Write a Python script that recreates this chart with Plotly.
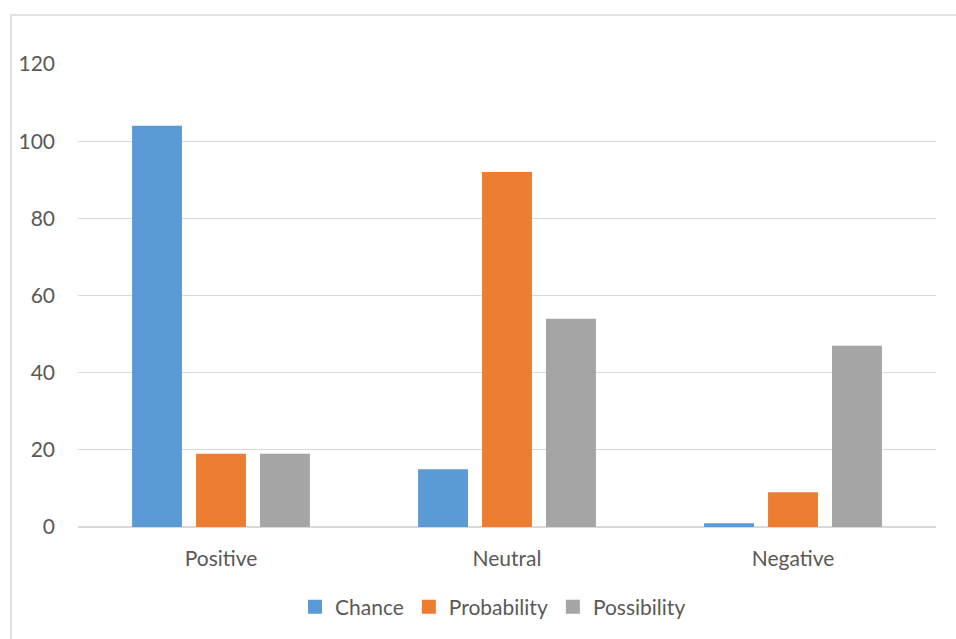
import plotly.graph_objects as go

categories = ["Positive", "Neutral", "Negative"]
chance = [104, 15, 1]
probability = [19, 92, 9]
possibility = [19, 54, 47]
y_ticks = [0, 20, 40, 60, 80, 100, 120]

W, H = 956, 639
ML, MR, MT, MB = 78, 20, 64, 112
plot_w = W - ML - MR
plot_h = H - MT - MB

font_family = "Lato, 'Open Sans', sans-serif"
text_color = "#595959"
grid_color = "#D9D9D9"

series = [
    ("Chance", chance, "#5B9BD5"),
    ("Probability", probability, "#ED7D31"),
    ("Possibility", possibility, "#A5A5A5"),
]

fig = go.Figure()
for name, vals, color in series:
    fig.add_trace(go.Bar(
        x=categories, y=vals, name=name, showlegend=False,
        marker=dict(color=color, line=dict(width=0)),
    ))
# legend entries with larger square swatches
for name, vals, color in series:
    fig.add_trace(go.Scatter(
        x=[None], y=[None], name=name, mode="markers",
        marker=dict(symbol="square", size=14, color=color),
    ))

# outer chart border (extends past the right and bottom edges)
fig.add_shape(
    type="rect", xref="paper", yref="paper",
    x0=(11 - ML) / plot_w, x1=(W + 20 - ML) / plot_w,
    y0=-(H + 20 - MT - plot_h) / plot_h, y1=(MT + plot_h - 15) / plot_h,
    line=dict(color=grid_color, width=1.5), fillcolor="rgba(0,0,0,0)",
    layer="below",
)

fig.update_layout(
    width=W, height=H,
    margin=dict(l=ML, r=MR, t=MT, b=MB, pad=0),
    paper_bgcolor="white", plot_bgcolor="white",
    barmode="group", bargap=0.329, bargroupgap=0.22,
    font=dict(family=font_family, size=21, color=text_color),
    showlegend=True,
    legend=dict(
        orientation="h", x=(493 - ML) / plot_w, xanchor="center",
        y=-(607 - (MT + plot_h)) / plot_h, yanchor="middle",
        font=dict(size=21, color=text_color),
        itemwidth=30, tracegroupgap=0,
        traceorder="normal",
    ),
    xaxis=dict(
        showgrid=False, showline=False, ticks="",
        ticklabelstandoff=17,
        tickfont=dict(size=21, color=text_color),
    ),
    yaxis=dict(
        range=[0, 120], tickvals=y_ticks,
        showgrid=True, gridcolor=grid_color, gridwidth=1.3,
        zeroline=True, zerolinecolor=grid_color, zerolinewidth=1.5,
        showline=False, ticks="", ticklabelstandoff=22,
        tickfont=dict(size=21, color=text_color),
    ),
)

fig.write_html("out.html")
